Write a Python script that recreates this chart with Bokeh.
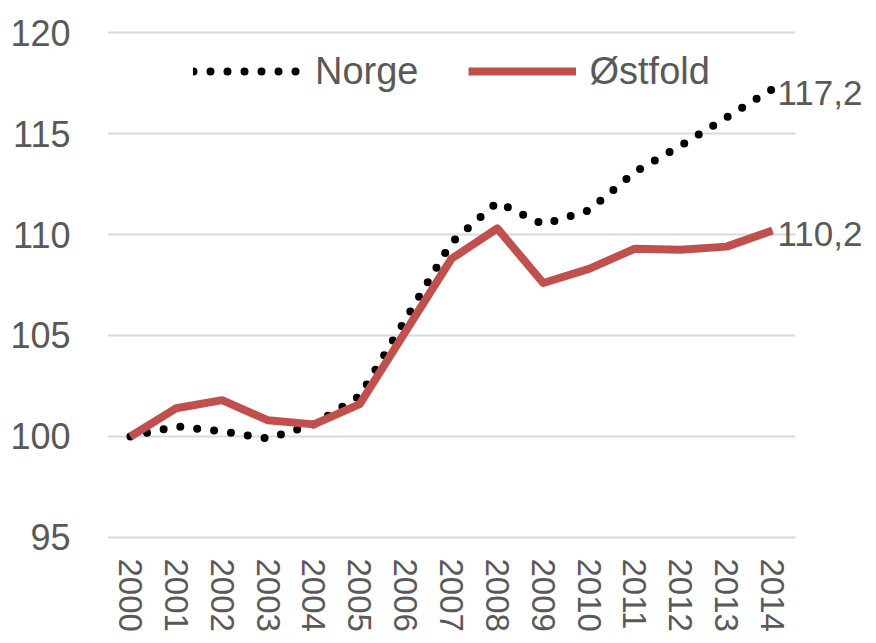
import math
from bokeh.plotting import figure
from bokeh.models import Range1d, FixedTicker, Legend, LegendItem
from bokeh.core.properties import value
from bokeh.embed import file_html
from bokeh.resources import INLINE

years = [2000, 2001, 2002, 2003, 2004, 2005, 2006, 2007,
         2008, 2009, 2010, 2011, 2012, 2013, 2014]
norge = [100.0, 100.5, 100.25, 99.9, 100.6, 102.0, 105.8, 109.6,
         111.6, 110.5, 111.2, 113.1, 114.4, 115.8, 117.2]
ostfold = [100.0, 101.4, 101.8, 100.8, 100.6, 101.6, 105.2, 108.8,
           110.3, 107.6, 108.3, 109.3, 109.25, 109.4, 110.2]
y_ticks = [95, 100, 105, 110, 115, 120]
series_names = ["Norge", "Østfold"]
end_labels = ["117,2", "110,2"]

FONT = "Liberation Sans"
TXT = "#595959"
RED = "#C0504D"

half = 0.5  # half a category slot on each side of the year axis
x_start = years[0] - half
x_end = years[-1] + 2.05  # room on the right for the end labels

p = figure(width=866, height=643, output_backend="svg", toolbar_location=None,
           x_range=Range1d(x_start, x_end),
           y_range=Range1d(y_ticks[0] - 0.1, y_ticks[-1] + 0.1),
           min_border_left=107, min_border_right=0, min_border_top=30,
           min_border_bottom=104)
p.outline_line_color = None
p.background_fill_color = "white"
p.border_fill_color = "white"

# horizontal gridlines limited to the year slots
p.segment(x0=[x_start] * len(y_ticks), x1=[years[-1] + half] * len(y_ticks),
          y0=y_ticks, y1=y_ticks, line_color="#D9D9D9", line_width=2)

l1 = p.line(years, norge, line_color="black", line_width=8, line_dash="0 17",
            line_cap="round", line_join="round")
l2 = p.line(years, ostfold, line_color=RED, line_width=8, line_join="round")

p.text(x=[years[-1], years[-1]], y=[norge[-1], ostfold[-1]], text=end_labels,
       x_offset=5, y_offset=4, text_baseline="middle", text_font=value(FONT),
       text_font_size="35px", text_color=TXT)

p.xgrid.grid_line_color = None
p.ygrid.grid_line_color = None
p.yaxis.ticker = FixedTicker(ticks=y_ticks)
p.xaxis.ticker = FixedTicker(ticks=years)

for ax in (p.xaxis[0], p.yaxis[0]):
    ax.axis_line_color = None
    ax.major_tick_line_color = None
    ax.minor_tick_line_color = None
    ax.major_tick_out = 0
    ax.major_tick_in = 0
    ax.minor_tick_out = 0
    ax.minor_tick_in = 0
    ax.major_label_text_font = FONT
    ax.major_label_text_color = TXT

p.yaxis.major_label_text_font_size = "36px"
p.yaxis.major_label_standoff = 37
p.xaxis.major_label_text_font_size = "33px"
p.xaxis.major_label_orientation = -math.pi / 2
p.xaxis.major_label_standoff = 19

legend = Legend(items=[LegendItem(label=series_names[0], renderers=[l1]),
                       LegendItem(label=series_names[1], renderers=[l2])],
                orientation="horizontal", location=(86, 446),
                glyph_width=108, glyph_height=44, label_standoff=14, spacing=49,
                label_text_font=FONT, label_text_font_size="38px",
                label_text_color=TXT, border_line_color=None,
                background_fill_alpha=0, margin=0, padding=0)
p.add_layout(legend)

open("out.html", "w").write(file_html(p, INLINE))
